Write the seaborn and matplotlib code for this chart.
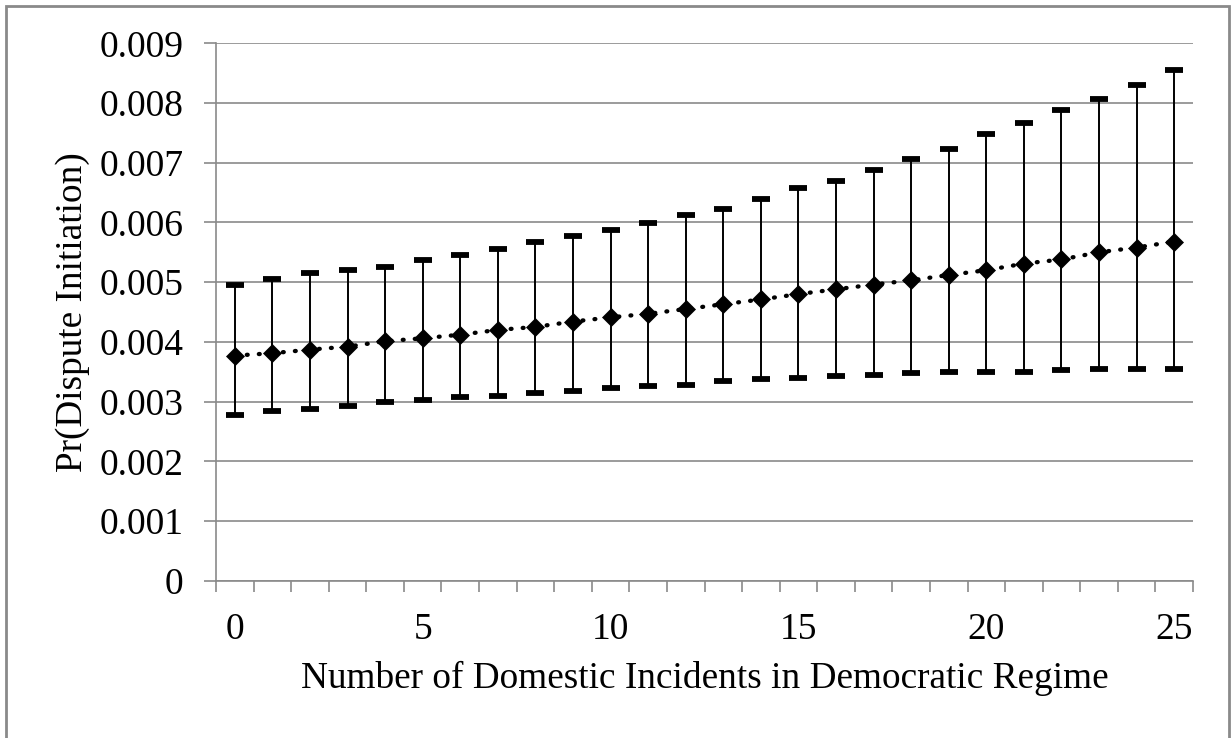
import numpy as np
import pandas as pd
import matplotlib
matplotlib.use("Agg")
import matplotlib.pyplot as plt
import seaborn as sns
from matplotlib.patches import Rectangle
from matplotlib.ticker import FixedLocator, FixedFormatter

# ---- data ----
incidents = list(range(26))
pr_mean = [0.00377, 0.00381, 0.00387, 0.00392, 0.00401, 0.00406, 0.00412, 0.00420,
           0.00425, 0.00434, 0.00441, 0.00447, 0.00455, 0.00463, 0.00471, 0.00480,
           0.00488, 0.00496, 0.00503, 0.00512, 0.00520, 0.00531, 0.00538, 0.00550,
           0.00558, 0.00568]
pr_upper = [0.00496, 0.00505, 0.00515, 0.00520, 0.00526, 0.00537, 0.00545, 0.00555,
            0.00568, 0.00577, 0.00588, 0.00599, 0.00612, 0.00623, 0.00639, 0.00658,
            0.00669, 0.00688, 0.00707, 0.00723, 0.00748, 0.00767, 0.00788, 0.00807,
            0.00831, 0.00856]
pr_lower = [0.00277, 0.00285, 0.00288, 0.00293, 0.00299, 0.00302, 0.00307, 0.00310,
            0.00315, 0.00318, 0.00323, 0.00326, 0.00328, 0.00334, 0.00337, 0.00340,
            0.00342, 0.00345, 0.00348, 0.00350, 0.00350, 0.00350, 0.00353, 0.00355,
            0.00355, 0.00355]
y_ticks = [0.0, 0.001, 0.002, 0.003, 0.004, 0.005, 0.006, 0.007, 0.008, 0.009]
y_tick_labels = ["0", "0.001", "0.002", "0.003", "0.004", "0.005", "0.006",
                 "0.007", "0.008", "0.009"]
x_ticks = [0, 5, 10, 15, 20, 25]
x_tick_labels = ["0", "5", "10", "15", "20", "25"]
x_label = "Number of Domestic Incidents in Democratic Regime"
y_label = "Pr(Dispute Initiation)"

df = pd.DataFrame({"x": incidents, "mean": pr_mean,
                   "upper": pr_upper, "lower": pr_lower})

# ---- style ----
sns.set_theme(style="white")
plt.rcParams["font.family"] = ["Liberation Serif", "DejaVu Serif"]
GRAY = "#8a8a8a"
FS_TICK = 27
FS_LABEL = 26.8

W, H = 1231, 738
fig = plt.figure(figsize=(W / 100, H / 100), dpi=100)
ax = fig.add_axes([216 / W, 1 - 580.7 / H, (1193 - 216) / W, (580.7 - 43.3) / H])

# error bars
ax.errorbar(df["x"], df["mean"],
            yerr=[df["mean"] - df["lower"], df["upper"] - df["mean"]],
            fmt="none", ecolor="black", elinewidth=1.4,
            capsize=6.5, capthick=4.2, zorder=3)

# dotted mean line with diamond markers
sns.lineplot(data=df, x="x", y="mean", ax=ax, color="black", linewidth=3.1,
             marker="D", markersize=8.8, markeredgecolor="black",
             markeredgewidth=0.5, zorder=4)
line = ax.lines[-1]
line.set_linestyle((0, (0.2, 2.6)))
line.set_dash_capstyle("round")

# axes limits and ticks (category axis style)
n = len(incidents)
ax.set_xlim(-0.5, n - 0.5)
ax.set_ylim(y_ticks[0], y_ticks[-1])

ax.xaxis.set_major_locator(FixedLocator(x_ticks))
ax.xaxis.set_major_formatter(FixedFormatter(x_tick_labels))
ax.xaxis.set_minor_locator(FixedLocator(np.arange(-0.5, n, 1.0)))
ax.tick_params(axis="x", which="major", length=0, pad=23, labelsize=FS_TICK,
               labelcolor="black")
ax.tick_params(axis="x", which="minor", length=8, width=1.2, color=GRAY,
               direction="out", bottom=True)

ax.yaxis.set_major_locator(FixedLocator(y_ticks))
ax.yaxis.set_major_formatter(FixedFormatter(y_tick_labels))
ax.tick_params(axis="y", which="major", length=8.5, width=1.2, color=GRAY,
               direction="out", pad=15, labelsize=FS_TICK, labelcolor="black", left=True)

ax.grid(axis="y", color=GRAY, linewidth=1.2)
ax.grid(axis="x", visible=False)
ax.set_axisbelow(True)

for s in ["top", "right"]:
    ax.spines[s].set_visible(False)
for s in ["left", "bottom"]:
    ax.spines[s].set_color(GRAY)
    ax.spines[s].set_linewidth(1.2)

ax.set_xlabel(x_label, fontsize=FS_LABEL, color="black", va="center")
ax.set_ylabel(y_label, fontsize=FS_LABEL, color="black", va="center")
ax.xaxis.set_label_coords(0.5, (580.7 - 678) / (580.7 - 43.3))
ax.yaxis.set_label_coords((73 - 216) / (1193 - 216), 0.5)

# outer chart frame
fig.patches.append(Rectangle((5.5 / W, -0.05), (1228.5 - 5.5) / W, 1.05 - 6 / H,
                             transform=fig.transFigure, fill=False,
                             edgecolor=GRAY, linewidth=2.0, zorder=10))

fig.savefig("out.png", dpi=100, facecolor="white")
